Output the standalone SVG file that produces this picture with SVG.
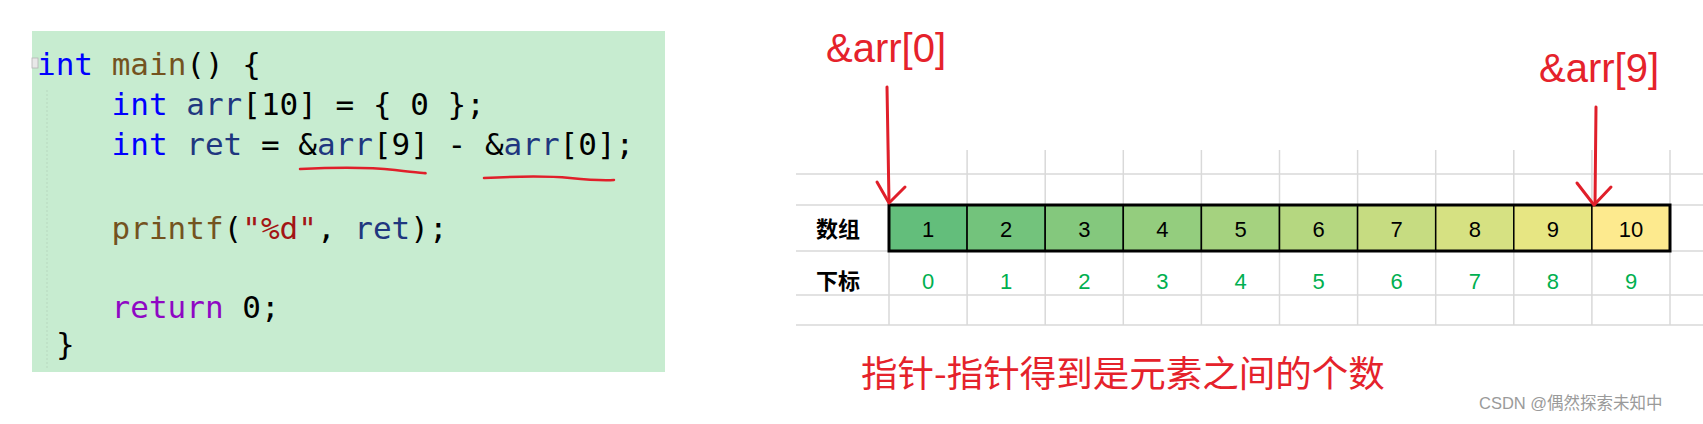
<svg xmlns="http://www.w3.org/2000/svg" width="1703" height="424" viewBox="0 0 1703 424">
<defs>
<style>
.code{font-family:"DejaVu Sans Mono","Liberation Mono",monospace;font-size:31px;fill:#000}
.kw{fill:#0000ff}.fn{fill:#74531f}.var{fill:#1f377f}.str{fill:#a31515}.ret{fill:#8f08c4}
.grid{stroke:#d9d9d9;stroke-width:1.5;fill:none}
.cell{stroke:#000;stroke-width:1.5}
.val{font-family:"Liberation Sans",Arial,sans-serif;font-size:22px;fill:#000;text-anchor:middle}
.idx{font-family:"Liberation Sans",Arial,sans-serif;font-size:22px;fill:#00b050;text-anchor:middle}
.lab{font-family:"Noto Sans CJK SC",sans-serif;font-size:22px;font-weight:bold;fill:#000}
.red{fill:#e5222b}
.pen{stroke:#e01f2a;stroke-width:3;fill:none;stroke-linecap:round;stroke-linejoin:round}
.ul{stroke:#e01f2a;stroke-width:2.5;fill:none;stroke-linecap:round}
</style>
</defs>
<rect width="1703" height="424" fill="#fff"/>

<g id="code-panel">
<rect x="32" y="31" width="633" height="341" fill="#c7ecd0"/>
<rect x="32" y="58" width="6" height="10" fill="#e8e8e8" stroke="#b5b5b5" stroke-width="0.8"/>
<line x1="47" y1="90" x2="47" y2="370" stroke="#b8d8bf" stroke-width="1" stroke-dasharray="2,2"/>
<text class="code" xml:space="preserve" x="37" y="75"><tspan class="kw">int</tspan> <tspan class="fn">main</tspan>() {</text>
<text class="code" xml:space="preserve" x="111.6" y="115"><tspan class="kw">int</tspan> <tspan class="var">arr</tspan>[10] = { 0 };</text>
<text class="code" xml:space="preserve" x="111.6" y="155"><tspan class="kw">int</tspan> <tspan class="var">ret</tspan> = &amp;<tspan class="var">arr</tspan>[9] - &amp;<tspan class="var">arr</tspan>[0];</text>
<text class="code" xml:space="preserve" x="111.6" y="239"><tspan class="fn">printf</tspan>(<tspan class="str">"%d"</tspan>, <tspan class="var">ret</tspan>);</text>
<text class="code" xml:space="preserve" x="111.6" y="318"><tspan class="ret">return</tspan> 0;</text>
<text class="code" x="56" y="355">}</text>
<path class="ul" d="M300,169 Q360,166 395,170 T425,173"/>
<path class="ul" d="M484,178 Q540,175 570,178 T614,180"/>
</g>

<g id="grid">
<line class="grid" x1="796" y1="174" x2="1703" y2="174"/>
<line class="grid" x1="796" y1="205" x2="1703" y2="205"/>
<line class="grid" x1="796" y1="251" x2="1703" y2="251"/>
<line class="grid" x1="796" y1="295" x2="1703" y2="295"/>
<line class="grid" x1="796" y1="325" x2="1703" y2="325"/>
<line class="grid" x1="889" y1="150" x2="889" y2="325"/>
<line class="grid" x1="967.1" y1="150" x2="967.1" y2="325"/>
<line class="grid" x1="1045.2" y1="150" x2="1045.2" y2="325"/>
<line class="grid" x1="1123.3" y1="150" x2="1123.3" y2="325"/>
<line class="grid" x1="1201.4" y1="150" x2="1201.4" y2="325"/>
<line class="grid" x1="1279.5" y1="150" x2="1279.5" y2="325"/>
<line class="grid" x1="1357.6" y1="150" x2="1357.6" y2="325"/>
<line class="grid" x1="1435.7" y1="150" x2="1435.7" y2="325"/>
<line class="grid" x1="1513.8" y1="150" x2="1513.8" y2="325"/>
<line class="grid" x1="1591.9" y1="150" x2="1591.9" y2="325"/>
<line class="grid" x1="1670" y1="150" x2="1670" y2="325"/>
</g>

<g id="labels">
<text class="lab" x="816" y="237">数组</text>
<text class="lab" x="816" y="289">下标</text>
</g>

<g id="array">
<rect class="cell" x="889" y="205" width="78.1" height="46" fill="#63be7b"/>
<rect class="cell" x="967.1" y="205" width="78.1" height="46" fill="#73c37c"/>
<rect class="cell" x="1045.2" y="205" width="78.1" height="46" fill="#84c87d"/>
<rect class="cell" x="1123.3" y="205" width="78.1" height="46" fill="#94cd7e"/>
<rect class="cell" x="1201.4" y="205" width="78.1" height="46" fill="#a5d27f"/>
<rect class="cell" x="1279.5" y="205" width="78.1" height="46" fill="#b5d780"/>
<rect class="cell" x="1357.6" y="205" width="78.1" height="46" fill="#c6dc81"/>
<rect class="cell" x="1435.7" y="205" width="78.1" height="46" fill="#d6e182"/>
<rect class="cell" x="1513.8" y="205" width="78.1" height="46" fill="#e7e683"/>
<rect class="cell" x="1591.9" y="205" width="78.1" height="46" fill="#fdea8e"/>
<rect x="889" y="205" width="781" height="46" fill="none" stroke="#000" stroke-width="3"/>
<text class="val" x="928" y="237">1</text>
<text class="val" x="1006.2" y="237">2</text>
<text class="val" x="1084.3" y="237">3</text>
<text class="val" x="1162.4" y="237">4</text>
<text class="val" x="1240.5" y="237">5</text>
<text class="val" x="1318.6" y="237">6</text>
<text class="val" x="1396.7" y="237">7</text>
<text class="val" x="1474.8" y="237">8</text>
<text class="val" x="1552.9" y="237">9</text>
<text class="val" x="1631" y="237">10</text>
</g>

<g id="indices">
<text class="idx" x="928" y="289">0</text>
<text class="idx" x="1006.2" y="289">1</text>
<text class="idx" x="1084.3" y="289">2</text>
<text class="idx" x="1162.4" y="289">3</text>
<text class="idx" x="1240.5" y="289">4</text>
<text class="idx" x="1318.6" y="289">5</text>
<text class="idx" x="1396.7" y="289">6</text>
<text class="idx" x="1474.8" y="289">7</text>
<text class="idx" x="1552.9" y="289">8</text>
<text class="idx" x="1631" y="289">9</text>
</g>

<g id="ptr0">
<text class="red" x="826" y="62" font-family="Liberation Sans, Arial, sans-serif" font-size="40">&amp;arr[0]</text>
</g>
<g id="ptr9">
<text class="red" x="1539" y="82" font-family="Liberation Sans, Arial, sans-serif" font-size="40">&amp;arr[9]</text>
</g>

<g id="connectors">
<path class="pen" d="M887,87 L889,202"/>
<path class="pen" d="M877,182 L889,203 L905,187"/>
<path class="pen" d="M1596,107 L1595,204"/>
<path class="pen" d="M1577,183 L1594,205 L1611,187"/>
</g>

<g id="caption">
<text class="red" x="861" y="387" font-family="Noto Sans CJK SC, sans-serif" font-size="36.5">指针-指针得到是元素之间的个数</text>
</g>

<g id="watermark">
<text x="1479" y="409" font-family="Liberation Sans, Noto Sans CJK SC, sans-serif" font-size="16.5" fill="#9a9a9a">CSDN @偶然探索未知中</text>
</g>
</svg>
